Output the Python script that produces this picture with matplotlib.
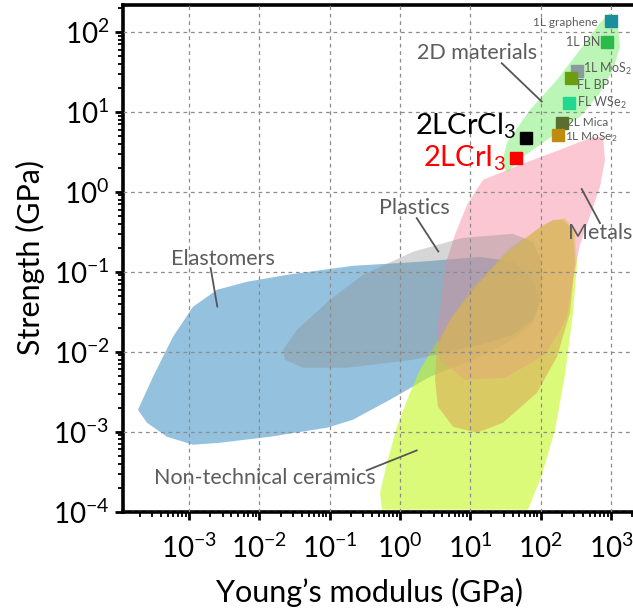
import matplotlib
matplotlib.use("Agg")
import matplotlib.pyplot as plt
from matplotlib.patches import Polygon
from matplotlib.ticker import LogLocator, LogFormatterSciNotation, NullFormatter
import numpy as np

plt.rcParams["font.family"] = ["Lato", "DejaVu Sans"]
plt.rcParams["mathtext.fontset"] = "custom"
plt.rcParams["mathtext.rm"] = "Lato"
plt.rcParams["mathtext.it"] = "Lato:italic"
plt.rcParams["mathtext.bf"] = "Lato:bold"

# === DATA ===

# 2D materials: Young's modulus (GPa), strength (GPa)
MAT_NAMES = ["1L graphene", "1L BN", "1L MoS$_2$", "FL BP", "FL WSe$_2$", "2L Mica", "1L MoSe$_2$"]
MAT_E = [1000, 871, 333, 268, 256, 200, 175]
MAT_S = [137, 74.3, 32.5, 26.4, 12.8, 7.35, 5.1]
MAT_COLORS = ["#1b8e9c", "#2bb94b", "#8a9aa0", "#6a9e10", "#20d890", "#5a6e30", "#c08c10"]

# this work
CRCL3_E, CRCL3_S = 62, 4.69
CRI3_E, CRI3_S = 44.2, 2.64

# material-family envelopes, log10(E) / log10(strength)
ELAST_LE = [-3.727, -3.513, -3.229, -2.945, -2.603, -2.176, -1.607, -0.669, 0.284, 1.138,
            1.607, 1.892, 1.991, 1.892, 1.607, 1.138, 0.427, -0.142, -0.669, -1.038,
            -1.849, -2.560, -2.945, -3.314, -3.599]
ELAST_LS = [-2.725, -2.313, -1.813, -1.438, -1.225, -1.125, -1.038, -0.925, -0.875, -0.813,
            -0.875, -1.100, -1.388, -1.638, -1.850, -2.063, -2.313, -2.600, -2.850, -2.950,
            -3.063, -3.138, -3.163, -3.063, -2.888]

CERAM_LE = [-0.256, -0.284, -0.185, -0.043, 0.142, 0.284, 0.569, 0.996, 1.565, 2.063,
            2.347, 2.489, 2.518, 2.461, 2.347, 2.205, 2.020, 1.821]
CERAM_LS = [-3.975, -3.763, -3.388, -2.938, -2.513, -2.225, -1.813, -1.225, -0.700, -0.400,
            -0.325, -0.500, -0.913, -1.513, -2.288, -2.975, -3.538, -3.975]

METAL_LE = [2.888, 2.916, 2.845, 2.717, 2.560, 2.461, 2.361, 2.063, 1.494, 0.925,
            0.569, 0.526, 0.569, 0.654, 0.782, 0.953, 1.181, 1.707, 2.276, 2.703]
METAL_LS = [0.688, 0.400, 0.063, -0.263, -0.663, -1.100, -1.600, -2.038, -2.325, -2.350,
            -2.100, -1.725, -1.438, -0.888, -0.538, -0.163, 0.150, 0.338, 0.525, 0.675]

PLAST_LE = [-1.664, -1.465, -0.996, -0.526, 0.185, 0.896, 1.607, 1.892, 2.020, 2.020,
            1.892, 1.607, 1.138, 0.185, -0.754, -1.380, -1.636]
PLAST_LS = [-1.975, -1.725, -1.350, -1.038, -0.750, -0.575, -0.525, -0.625, -0.888, -1.313,
            -1.600, -1.788, -1.913, -2.100, -2.200, -2.200, -2.100]

COMP_LE = [2.319, 2.461, 2.489, 2.418, 2.233, 1.949, 1.465, 1.095, 0.754, 0.541,
           0.498, 0.526, 0.711, 1.038, 1.465, 1.949, 2.176]
COMP_LS = [-0.350, -0.475, -0.888, -1.513, -2.063, -2.513, -2.888, -3.013, -2.938, -2.688,
           -2.350, -1.938, -1.600, -1.225, -0.813, -0.475, -0.350]

TWOD_LE = [2.987, 3.101, 3.129, 3.030, 2.845, 2.560, 2.091, 1.750, 1.522, 1.451,
           1.522, 1.849, 2.233, 2.560, 2.845]
TWOD_LS = [2.238, 2.063, 1.813, 1.525, 1.238, 0.938, 0.650, 0.438, 0.238, 0.363,
           0.613, 1.025, 1.400, 1.775, 2.113]

# leader lines (log10 units): [x0, x1], [y0, y1]
LEAD_2D = ([1.447, 2.016], [1.609, 1.129])
LEAD_METAL = ([2.585, 2.845], [0.034, -0.391])
LEAD_PLAST = ([0.238, 0.545], [-0.329, -0.746])
LEAD_ELAST = ([-2.693, -2.599], [-0.954, -1.434])
LEAD_CERAM = ([-0.474, 0.238], [-3.484, -3.234])

LABEL_GRAY = "#5c5c5c"


def envelope(ax, le, ls, color, alpha, z):
    pts = np.column_stack([10 ** np.array(le), 10 ** np.array(ls)])
    ax.add_patch(Polygon(pts, closed=True, facecolor=color, edgecolor="none",
                         alpha=alpha, zorder=z, joinstyle="round"))


def leader(ax, seg):
    ax.plot(10 ** np.array(seg[0]), 10 ** np.array(seg[1]), color="#555555",
            lw=1.3, zorder=5)


fig = plt.figure(figsize=(6.33, 6.15), dpi=100)
ax = fig.add_axes([0.1948, 0.168, 0.8052, 0.8244])
ax.set_xscale("log")
ax.set_yscale("log")
ax.set_xlim(1.16e-4, 2063)
ax.set_ylim(1e-4, 219)

# === ENVELOPES ===
envelope(ax, ELAST_LE, ELAST_LS, "#7ab3d6", 0.8, 1)
envelope(ax, CERAM_LE, CERAM_LS, "#c4f81a", 0.58, 1.1)
envelope(ax, METAL_LE, METAL_LS, "#f991a9", 0.5, 1.2)
envelope(ax, PLAST_LE, PLAST_LS, "#8a8a8a", 0.35, 1.3)
envelope(ax, COMP_LE, COMP_LS, "#d8b25a", 0.66, 1.4)
envelope(ax, TWOD_LE, TWOD_LS, "#8ef088", 0.6, 1.5)

for seg in [LEAD_2D, LEAD_METAL, LEAD_PLAST, LEAD_ELAST, LEAD_CERAM]:
    leader(ax, seg)

# region labels
ax.text(12.45, 53.8, "2D materials", fontsize=15.5, color=LABEL_GRAY, ha="center", va="center")
ax.text(700, 0.307, "Metals", fontsize=15.5, color=LABEL_GRAY, ha="center", va="center")
ax.text(1.58, 0.631, "Plastics", fontsize=15.5, color=LABEL_GRAY, ha="center", va="center")
ax.text(0.00303, 0.1454, "Elastomers", fontsize=15.5, color=LABEL_GRAY, ha="center", va="center")
ax.text(0.01183, 2.64e-4, "Non-technical ceramics", fontsize=15.5, color=LABEL_GRAY,
        ha="center", va="center")

# === POINTS ===
for e, s, c in zip(MAT_E, MAT_S, MAT_COLORS):
    ax.plot(e, s, "s", color=c, markersize=8, zorder=6)
ax.plot(CRCL3_E, CRCL3_S, "s", color="black", markersize=9, zorder=6)
ax.plot(CRI3_E, CRI3_S, "s", color="#ff0000", markersize=9, zorder=6)

# point labels
ax.text(655, 130.6, MAT_NAMES[0], fontsize=8.5, color=LABEL_GRAY, ha="right", va="center")
ax.text(700, 74.3, MAT_NAMES[1], fontsize=9, color=LABEL_GRAY, ha="right", va="center")
ax.text(401, 34.5, MAT_NAMES[2], fontsize=9, color=LABEL_GRAY, ha="left", va="center")
ax.text(330, 21.8, MAT_NAMES[3], fontsize=9, color=LABEL_GRAY, ha="left", va="center")
ax.text(330, 12.96, MAT_NAMES[4], fontsize=9, color=LABEL_GRAY, ha="left", va="center")
ax.text(237, 7.45, MAT_NAMES[5], fontsize=8.5, color=LABEL_GRAY, ha="left", va="center")
ax.text(222, 4.9, MAT_NAMES[6], fontsize=8.5, color=LABEL_GRAY, ha="left", va="center")

ax.text(1.63, 5.16, "2LCrCl$_3$", fontsize=21, color="black", ha="left", va="baseline", zorder=7)
ax.text(2.12, 2.05, "2LCrI$_3$", fontsize=21, color="#ff0000", ha="left", va="baseline", zorder=7)

# === AXES STYLE ===
ax.grid(True, which="major", color="#8c8c8c", linestyle=(0, (3, 3)), linewidth=0.9)
ax.set_axisbelow(False)
for side in ["left", "bottom", "top"]:
    ax.spines[side].set_linewidth(2.6)
ax.spines["right"].set_visible(False)

ax.xaxis.set_major_locator(LogLocator(base=10, numticks=20))
ax.yaxis.set_major_locator(LogLocator(base=10, numticks=20))
ax.xaxis.set_minor_locator(LogLocator(base=10, subs=np.arange(2, 10), numticks=20))
ax.yaxis.set_minor_locator(LogLocator(base=10, subs=np.arange(2, 10), numticks=20))
ax.xaxis.set_major_formatter(LogFormatterSciNotation())
ax.yaxis.set_major_formatter(LogFormatterSciNotation())
ax.xaxis.set_minor_formatter(NullFormatter())
ax.yaxis.set_minor_formatter(NullFormatter())

ax.tick_params(which="major", direction="out", length=6, width=2, labelsize=20, pad=4)
ax.tick_params(which="minor", direction="out", length=3.5, width=1.3)
ax.tick_params(axis="x", which="major", pad=10)
ax.tick_params(top=False, right=False, which="both")

ax.set_xlabel("Young\u2019s modulus (GPa)", fontsize=22)
ax.set_ylabel("Strength (GPa)", fontsize=22)
ax.xaxis.set_label_coords(0.484, -0.16)
ax.xaxis.label.set_va("center")
ax.yaxis.set_label_coords(-0.183, 0.502)
ax.yaxis.label.set_va("center")

fig.savefig("out.png", dpi=100)
